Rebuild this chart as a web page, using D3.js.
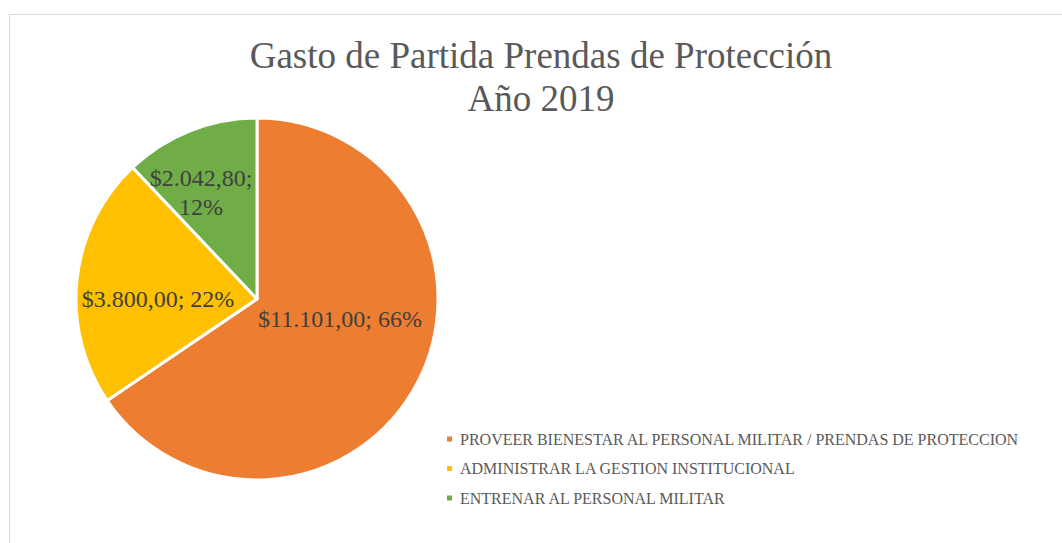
<!DOCTYPE html>
<html><head><meta charset="utf-8">
<script src="https://cdn.jsdelivr.net/npm/d3@7"></script>
<style>body{margin:0;background:#fff}svg{display:block}</style>
</head><body>
<script>
const categories = ["PROVEER BIENESTAR AL PERSONAL MILITAR / PRENDAS DE PROTECCION","ADMINISTRAR LA GESTION INSTITUCIONAL","ENTRENAR AL PERSONAL MILITAR"];
const values = [11101.00, 3800.00, 2042.80];
const valueLabels = ["$11.101,00","$3.800,00","$2.042,80"];
const percentLabels = ["66%","22%","12%"];
const colors = ["#ED7D31","#FFC000","#70AD47"];
const titleLines = ["Gasto de Partida Prendas de Protección","Año 2019"];

const W=1062,H=543;
const svg=d3.select("body").append("svg").attr("width",W).attr("height",H);
svg.append("rect").attr("x",9.5).attr("y",14.5).attr("width",1060).attr("height",540)
  .attr("fill","#fff").attr("stroke","#d9d9d9").attr("stroke-width",1);

const font="'Liberation Serif','Times New Roman',serif";
svg.append("g").selectAll("text").data(titleLines).join("text")
  .attr("x",541).attr("y",(d,i)=>68+i*43).attr("text-anchor","middle")
  .attr("font-family",font).attr("font-size",37).attr("fill","#595959").text(d=>d);

const cx=257,cy=299,r=181;
const pie=d3.pie().sort(null).value(d=>d);
const arcs=pie(values);
const arc=d3.arc().innerRadius(0).outerRadius(r);
const g=svg.append("g").attr("transform",`translate(${cx},${cy})`);
g.selectAll("path").data(arcs).join("path").attr("d",arc)
  .attr("fill",(d,i)=>colors[i]).attr("stroke","#fff").attr("stroke-width",3).attr("stroke-linejoin","round");

const labelPos=[[83,28],[-99,8],[-56,-113]];
const lbl=g.append("g").attr("font-family",font).attr("font-size",24).attr("fill","#404040").attr("text-anchor","middle");
arcs.forEach((a,i)=>{
  const [x,y]=labelPos[i];
  if(i===2){
    lbl.append("text").attr("x",x).attr("y",y).text(valueLabels[i]+";");
    lbl.append("text").attr("x",x).attr("y",y+29).text(percentLabels[i]);
  } else {
    lbl.append("text").attr("x",x).attr("y",y).text(valueLabels[i]+"; "+percentLabels[i]);
  }
});

const leg=svg.append("g").attr("transform","translate(447,439)");
const rows=leg.selectAll("g").data(categories).join("g").attr("transform",(d,i)=>`translate(0,${i*29.5})`);
rows.append("rect").attr("x",0).attr("y",-2.5).attr("width",5).attr("height",5).attr("fill",(d,i)=>colors[i]);
rows.append("text").attr("x",13).attr("y",5.5).attr("font-family",font).attr("font-size",16).attr("fill","#595959").text(d=>d);
</script>
</body></html>
